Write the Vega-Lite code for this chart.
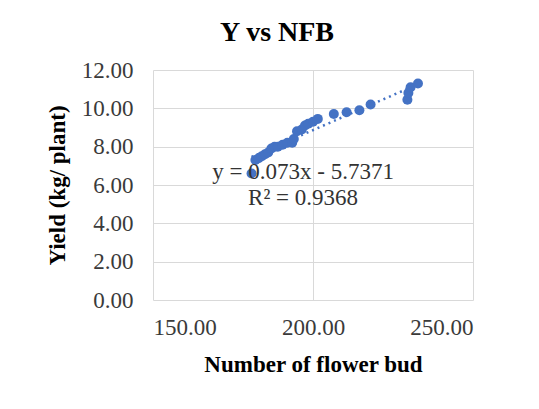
{
  "$schema": "https://vega.github.io/schema/vega-lite/v6.json",
  "autosize": "none",
  "width": 320,
  "height": 230,
  "padding": {"left": 153, "top": 70, "right": 66, "bottom": 109},
  "background": "white",
  "title": {
    "text": "Y vs NFB",
    "font": "Liberation Serif",
    "fontSize": 28,
    "fontWeight": "bold",
    "color": "#000000",
    "anchor": "middle",
    "dx": -36,
    "offset": 12
  },
  "config": {
    "view": {"stroke": null},
    "axis": {
      "labelFont": "Liberation Serif",
      "labelFontSize": 23,
      "labelColor": "#3a3a3a",
      "titleFont": "Liberation Serif",
      "titleFontSize": 23,
      "titleFontWeight": "bold",
      "titleColor": "#000000",
      "gridColor": "#d9d9d9",
      "gridWidth": 1,
      "domain": false,
      "ticks": false
    }
  },
  "datasets": {
    "points": [
      {"nfb": 180.8, "yield": 6.6},
      {"nfb": 182.0, "yield": 7.3},
      {"nfb": 183.0, "yield": 7.4},
      {"nfb": 184.0, "yield": 7.5},
      {"nfb": 185.0, "yield": 7.6},
      {"nfb": 186.0, "yield": 7.7},
      {"nfb": 187.0, "yield": 7.9},
      {"nfb": 188.0, "yield": 8.0},
      {"nfb": 189.0, "yield": 8.0},
      {"nfb": 190.5, "yield": 8.1},
      {"nfb": 192.0, "yield": 8.2},
      {"nfb": 193.5, "yield": 8.2},
      {"nfb": 194.0, "yield": 8.4},
      {"nfb": 195.0, "yield": 8.8},
      {"nfb": 196.5, "yield": 8.9},
      {"nfb": 197.5, "yield": 9.1},
      {"nfb": 198.5, "yield": 9.2},
      {"nfb": 200.0, "yield": 9.3},
      {"nfb": 201.5, "yield": 9.45},
      {"nfb": 206.5, "yield": 9.7},
      {"nfb": 210.5, "yield": 9.8},
      {"nfb": 214.5, "yield": 9.9},
      {"nfb": 218.0, "yield": 10.2},
      {"nfb": 229.5, "yield": 10.45},
      {"nfb": 229.8, "yield": 10.8},
      {"nfb": 230.5, "yield": 11.1},
      {"nfb": 232.8, "yield": 11.3}
    ],
    "trend": [
      {"nfb": 180.8, "yield": 7.46},
      {"nfb": 232.8, "yield": 11.26}
    ],
    "labels": [
      {"nfb": 196.9, "yield": 6.68, "text": "y = 0.073x - 5.7371"},
      {"nfb": 196.9, "yield": 5.32, "text": "R² = 0.9368"}
    ]
  },
  "encoding": {
    "x": {
      "field": "nfb",
      "type": "quantitative",
      "scale": {"domain": [150, 250], "nice": false, "zero": false},
      "axis": {
        "values": [150, 200, 250],
        "format": ".2f",
        "title": "Number of flower bud",
        "labelPadding": 16,
        "titlePadding": 14
      }
    },
    "y": {
      "field": "yield",
      "type": "quantitative",
      "scale": {"domain": [0, 12], "nice": false},
      "axis": {
        "values": [0, 2, 4, 6, 8, 10, 12],
        "format": ".2f",
        "title": "Yield (kg/ plant)",
        "labelPadding": 20,
        "titlePadding": 12
      }
    }
  },
  "layer": [
    {
      "data": {"name": "trend"},
      "mark": {"type": "line", "color": "#4472C4", "strokeWidth": 2.5, "strokeDash": [2, 4]},
      "encoding": {}
    },
    {
      "data": {"name": "points"},
      "mark": {"type": "circle", "color": "#4472C4", "opacity": 1, "size": 100},
      "encoding": {}
    },
    {
      "data": {"name": "labels"},
      "mark": {"type": "text", "font": "Liberation Serif", "fontSize": 23, "color": "#333333", "align": "center", "baseline": "middle"},
      "encoding": {"text": {"field": "text"}}
    }
  ]
}
